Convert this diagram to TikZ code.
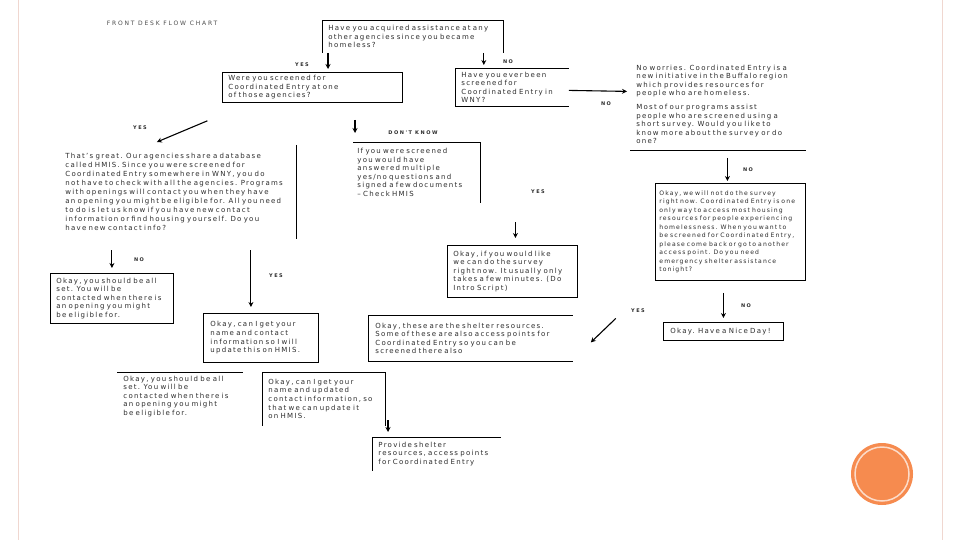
\documentclass[tikz,border=0pt]{standalone}
\usepackage{fontspec}
\setmainfont{DejaVu Sans}[LetterSpace=18]
\newfontfamily\lblfont{DejaVu Sans}[LetterSpace=30]
\usetikzlibrary{arrows.meta}
\definecolor{txtgray}{RGB}{45,45,45}
\definecolor{dotorange}{RGB}{246,139,79}
\definecolor{edgepink}{RGB}{240,215,208}
\tikzset{
	box/.style={anchor=north west,align=left,inner xsep=6pt,inner ysep=0pt,line width=0.8pt,font=\fontsize{7}{8.6}\selectfont,text=txtgray},
	lbl/.style={font=\lblfont\bfseries\fontsize{5}{6}\selectfont,text=txtgray},
	arr/.style={-{Stealth[length=5pt,width=5pt]},line width=1.1pt},
}
\begin{document}
\begin{tikzpicture}[x=1pt,y=-1pt]
	\useasboundingbox[fill=white] (0,0) rectangle (960,540);
	\draw[edgepink,line width=1pt] (18,0)--(18,540) (942,0)--(942,540);
	\fill[dotorange] (882,474) circle(31);
	\draw[white!70!dotorange,line width=1.5pt] (882,474) circle(27);
	
	\node[font=\lblfont\fontsize{6}{7}\selectfont,text=black!70] (title) at (162,23) {FRONT DESK FLOW CHART};
	
	\node[box,text width=169pt,minimum height=32pt] (q1) at (322,20) {Have you acquired assistance at any\\other agencies since you became\\homeless?};
	\node[box,draw,text width=168pt,minimum height=30pt] (screened) at (222,72) {Were you screened for\\Coordinated Entry at one\\of those agencies?};
	\node[box,text width=101pt,minimum height=38pt] (ever) at (455,68) {Have you ever been\\screened for\\Coordinated Entry in\\WNY?};
	\node[box,text width=163pt,minimum height=92pt] (info) at (630,58) {No worries. Coordinated Entry is a\\new initiative in the Buffalo region\\which provides resources for\\people who are homeless.\\[5pt]Most of our programs assist\\people who are screened using a\\short survey. Would you like to\\know more about the survey or do\\one?};
	\node[box,inner xsep=4pt,text width=227pt,minimum height=93pt,font=\fontsize{7}{9}\selectfont] (great) at (61,145) {That's great. Our agencies share a database\\called HMIS. Since you were screened for\\Coordinated Entry somewhere in WNY, you do\\not have to check with all the agencies. Programs\\with openings will contact you when they have\\an opening you might be eligible for. All you need\\to do is let us know if you have new contact\\information or find housing yourself. Do you\\have new contact info?};
	\node[box,inner xsep=4pt,text width=119pt,minimum height=60pt] (hmis) at (353,142) {If you were screened\\you would have\\answered multiple\\yes/no questions and\\signed a few documents\\-- Check HMIS};
	\node[box,draw,text width=118pt,minimum height=52pt] (would) at (447,245) {Okay, if you would like\\we can do the survey\\right now. It usually only\\takes a few minutes. (Do\\Intro Script)};
	\node[box,draw,inner xsep=4pt,text width=142pt,minimum height=97pt,font=\fontsize{6.1}{8.5}\selectfont] (notsurvey) at (655,183) {Okay, we will not do the survey\\right now. Coordinated Entry is one\\only way to access most housing\\resources for people experiencing\\homelessness. When you want to\\be screened for Coordinated Entry,\\please come back or go to another\\access point. Do you need\\emergency shelter assistance\\tonight?};
	\node[box,draw,inner xsep=6pt,text width=111pt,minimum height=50pt] (allset) at (50,273) {Okay, you should be all\\set. You will be\\contacted when there is\\an opening you might\\be eligible for.};
	\node[box,draw,inner xsep=7pt,text width=101pt,minimum height=49pt] (contact) at (203,313) {Okay, can I get your\\name and contact\\information so I will\\update this on HMIS.};
	\node[box,inner xsep=7pt,text width=190pt,minimum height=46pt] (shelter) at (368,315) {Okay, these are the shelter resources.\\Some of these are also access points for\\Coordinated Entry so you can be\\screened there also};
	\node[box,text width=113pt,minimum height=48pt] (allset2) at (117,372) {Okay, you should be all\\set. You will be\\contacted when there is\\an opening you might\\be eligible for.};
	\node[box,text width=111pt,minimum height=53pt] (updated) at (262,372) {Okay, can I get your\\name and updated\\contact information, so\\that we can update it\\on HMIS.};
	\node[box,text width=116pt,minimum height=33pt] (provide) at (372,437) {Provide shelter\\resources, access points\\for Coordinated Entry};
	\node[box,draw,inner xsep=7pt,text width=106pt,minimum height=18pt] (nice) at (663,322) {Okay. Have a Nice Day!};
	
	\draw[line width=0.8pt] (q1.south west)--(q1.north west)--(q1.north east)--(q1.south east);
	\draw[line width=0.8pt] (ever.north east)--(ever.north west)--(ever.south west)--(ever.south east);
	\draw[line width=0.8pt] (info.south west)--(info.south east);
	\draw[line width=0.8pt] (great.north east)--(great.south east);
	\draw[line width=0.8pt] (hmis.north west)--(hmis.north east)--(hmis.south east);
	\draw[line width=0.8pt] (shelter.north east)--(shelter.north west)--(shelter.south west)--(shelter.south east);
	\draw[line width=0.8pt] (allset2.north west)--(allset2.north east);
	\draw[line width=0.8pt] (updated.south west)--(updated.north west)--(updated.north east)--(updated.south east);
	\draw[line width=0.8pt] (provide.south west)--(provide.north west)--(provide.north east);
	
	\node[lbl] (yes1) at (302,65) {YES};
	\node[lbl] (no1) at (508,62) {NO};
	\node[lbl] (no2) at (606,104) {NO};
	\node[lbl] (yes2) at (140,128) {YES};
	\node[lbl] (dk) at (413,133) {DON'T KNOW};
	\node[lbl] (yes3) at (538,192) {YES};
	\node[lbl] (no3) at (748,170) {NO};
	\node[lbl] (no4) at (139,260) {NO};
	\node[lbl] (yes4) at (276,276) {YES};
	\node[lbl] (yes5) at (638,311) {YES};
	\node[lbl] (no5) at (746,306) {NO};
	
	\draw[arr] ([xshift=6pt]q1.south west)--([xshift=6pt,yshift=3pt]q1.south west |- screened.north);
	\draw[arr] ([xshift=-20pt]q1.south east)--([xshift=-20pt,yshift=3pt]q1.south east |- ever.north);
	\draw[arr] ([yshift=-3pt]ever.east)--([xshift=-3pt,yshift=-4pt]info.west |- ever.east);
	\draw[arr] ([shift={(-105pt,-18pt)}]screened.south)--([shift={(-22pt,3pt)}]great.north);
	\draw[arr] ([shift={(2pt,22pt)}]hmis.north west)--([shift={(2pt,9pt)}]hmis.north west);
	\draw[arr] ([xshift=3pt,yshift=23pt]would.north)--([xshift=3pt,yshift=7pt]would.north);
	\draw[arr] ([xshift=-3pt,yshift=25pt]notsurvey.north)--([xshift=-3pt,yshift=2pt]notsurvey.north);
	\draw[arr] ([yshift=-12pt]notsurvey.south -| nice.north)--([yshift=4pt]nice.north);
	\draw[arr] ([shift={(43pt,20pt)}]shelter.east)--([shift={(18pt,-4pt)}]shelter.east);
	\draw[arr] ([yshift=23pt]allset.north)--([yshift=5pt]allset.north);
	\draw[arr] ([xshift=-10pt,yshift=63pt]contact.north)--([xshift=-10pt,yshift=6pt]contact.north);
	\draw[arr] ([shift={(16pt,17pt)}]provide.north west)--([shift={(16pt,5pt)}]provide.north west);
\end{tikzpicture}
\end{document}
